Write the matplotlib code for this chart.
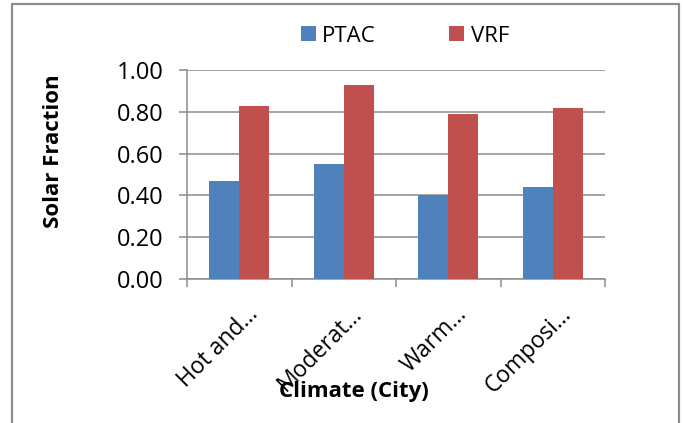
import numpy as np
import matplotlib
matplotlib.use("Agg")
import matplotlib.pyplot as plt
import matplotlib.transforms as mtransforms
from matplotlib.patches import Rectangle

plt.rcParams['font.family'] = ['Open Sans', 'DejaVu Sans']

categories = ["Hot and…", "Moderat…", "Warm…", "Composi…"]
ptac = [0.47, 0.55, 0.40, 0.44]
vrf = [0.83, 0.93, 0.79, 0.82]
yticks = [0.0, 0.2, 0.4, 0.6, 0.8, 1.0]

BLUE = "#4F81BD"
RED = "#C0504D"
GREY = "#8C8C8C"

W, H = 683, 423
fig = plt.figure(figsize=(W / 100, H / 100), dpi=100)
ax = fig.add_axes([187 / W, 1 - 279 / H, (605 - 187) / W, (279 - 70) / H])

x = np.arange(len(categories))
bw = 0.287
ax.bar(x - bw / 2, ptac, bw, color=BLUE, label="PTAC", zorder=3)
ax.bar(x + bw / 2, vrf, bw, color=RED, label="VRF", zorder=3)

ax.set_xlim(-0.5, len(categories) - 0.5)
ax.set_ylim(0, 1.0)
ax.set_yticks(yticks, [f"{v:.2f}" for v in yticks])
ax.yaxis.grid(True, color=GREY, linewidth=1.1, zorder=0)

for s in ["top", "right"]:
    ax.spines[s].set_visible(False)
for s in ["left", "bottom"]:
    ax.spines[s].set_color(GREY)
    ax.spines[s].set_linewidth(1.1)

ax.tick_params(axis="y", direction="out", length=6, width=1.1, color=GREY,
               labelsize=17, pad=11)
# category boundary ticks, labels at centres
ax.set_xticks(np.arange(len(categories) + 1) - 0.5, minor=True)
ax.tick_params(axis="x", which="minor", direction="out", length=6, width=1.1, color=GREY)
ax.set_xticks(x, categories, rotation=45, ha="right", va="center",
              rotation_mode="anchor")
ax.tick_params(axis="x", which="major", length=0, labelsize=16.5, pad=23)
offset = mtransforms.ScaledTranslation(15 / 100, 0, fig.dpi_scale_trans)
for lab in ax.get_xticklabels():
    lab.set_transform(lab.get_transform() + offset)

ax.set_ylabel("Solar Fraction", fontsize=16, fontweight="bold", va="center")
ax.yaxis.set_label_coords((54 - 187) / 418, 0.612)
ax.set_xlabel("Climate (City)", fontsize=16, fontweight="bold", va="center")
ax.xaxis.set_label_coords((354 - 187) / 418, (279 - 391) / 209)

fig.legend(loc="center", bbox_to_anchor=(405 / W, 1 - 36 / H), ncol=2,
           frameon=False, fontsize=16, handlelength=0.65, handleheight=0.65,
           handletextpad=0.3, columnspacing=3.3)

fig.patches.append(Rectangle((12 / W, -0.05), (679 - 12) / W, 1.05 - 4 / H,
                             transform=fig.transFigure, fill=False,
                             edgecolor=GREY, linewidth=1.6))

plt.savefig("out.png", dpi=100)
